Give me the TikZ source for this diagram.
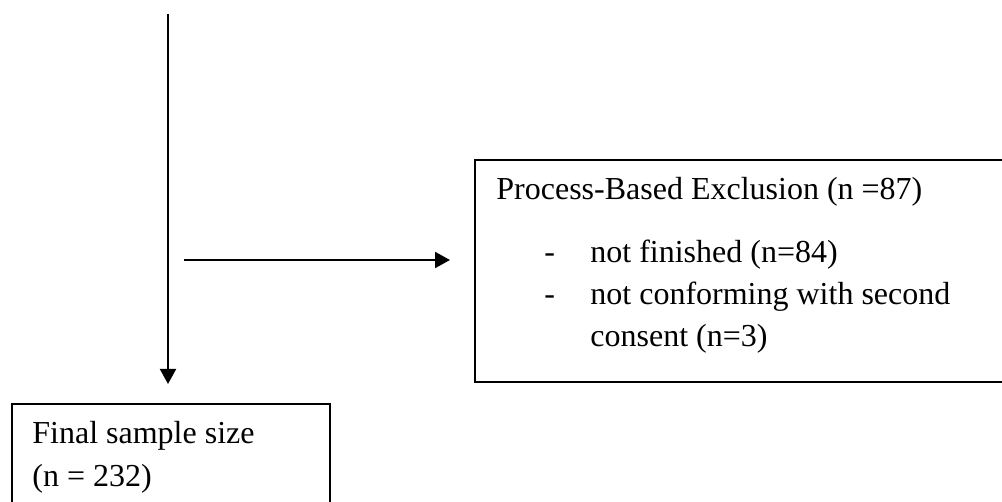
\documentclass[tikz,border=0pt]{standalone}
\usepackage{fontspec}
\setmainfont{Liberation Serif}
\usetikzlibrary{arrows.meta}
\begin{document}
\begin{tikzpicture}[x=0.5pt,y=-0.5pt,
  box/.style={draw,line width=0.9pt,rectangle,inner sep=0pt,anchor=north west},
  txt/.style={inner sep=0pt,anchor=base west,font=\fontsize{16}{21}\selectfont},
  conn/.style={line width=1pt,-{Triangle[length=7.5pt,width=8pt]}}]
\useasboundingbox (0,0) rectangle (1002,502);
\clip (0,0) rectangle (1002,502);
% boxes
\node[box,minimum width=265pt,minimum height=111pt] (excl) at (474,159) {};
\node[box,minimum width=159pt,minimum height=60pt] (final) at (11,403) {};
% texts
\node[txt] (t1) at (496,200) {Process-Based Exclusion (n =87)};
\node[txt] (d1) at (544,263) {-};
\node[txt] (t2) at (590,263) {not finished (n=84)};
\node[txt] (d2) at (544,305) {-};
\node[txt] (t3) at (590,305) {not conforming with second};
\node[txt] (t4) at (590,347) {consent (n=3)};
\node[txt] (f1) at (32,444) {Final sample size};
\node[txt] (f2) at (32,486) {(n = 232)};
% connectors
\coordinate (top) at (168,14);
\coordinate (branch) at (184,260);
\draw[conn,shorten >=9.5pt] (top) -- (top |- final.north);
\draw[conn,shorten >=12pt] (branch) -- (branch -| excl.west);
\end{tikzpicture}
\end{document}
